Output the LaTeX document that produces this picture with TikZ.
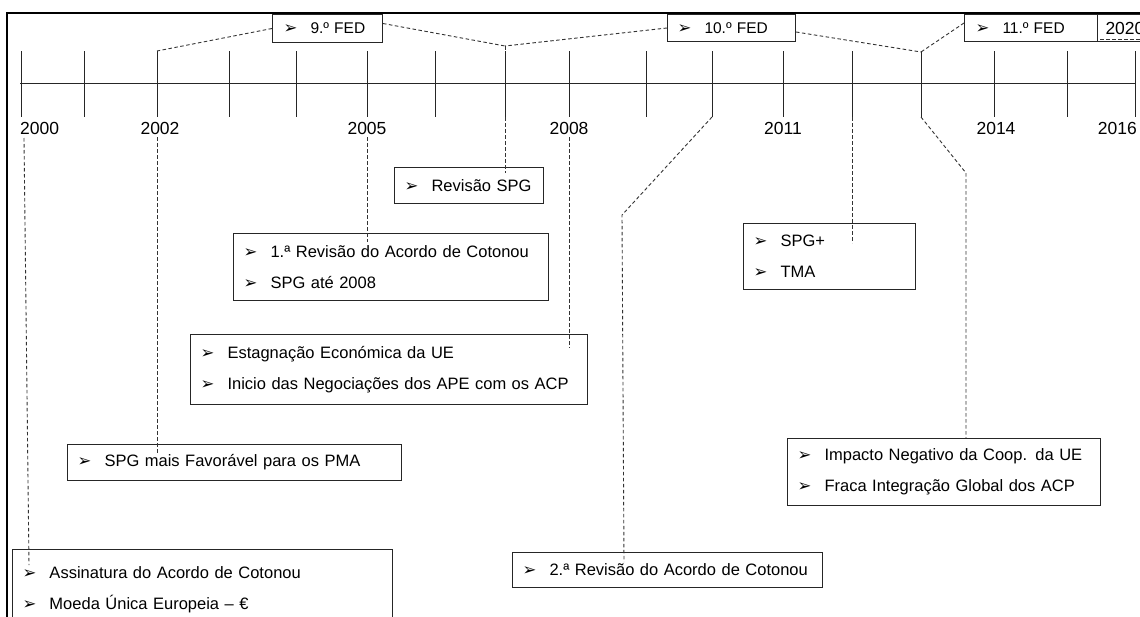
\documentclass[tikz,border=0pt]{standalone}
\usepackage{fontspec}
\setmainfont{Liberation Sans}
\newfontfamily\dejavu{DejaVu Sans}
\usetikzlibrary{calc}
\newcommand{\bul}{\makebox[27pt][l]{\raisebox{0.2pt}{\dejavu\fontsize{16.5}{14}\selectfont ➢}}}
\tikzset{
  linecol/.style={draw=black!85},
  frame/.style={draw=black, line width=2pt},
  axis/.style={linecol, line width=1pt},
  tickline/.style={linecol, line width=1pt},
  conn/.style={draw=black!80, line width=0.9pt, dash pattern=on 3.5pt off 2.5pt},
  box/.style={draw=black!85, line width=1pt, fill=white, anchor=north west,
    inner xsep=10pt, inner ysep=0pt, align=left,
    font=\fontsize{16.5}{31}\selectfont},
  fedbox/.style={box, font=\fontsize{15.5}{18}\selectfont},
  year/.style={inner sep=0pt, font=\fontsize{17.5}{20}\selectfont},
}
\begin{document}
\begin{tikzpicture}[x=1pt,y=-1pt]
\useasboundingbox (0,0) rectangle (1140,616);
\clip (0,0) rectangle (1140,616);
\fill[white] (0,0) rectangle (1140,616);
% outer frame (cut by the picture edge)
\draw[frame] (7,13) rectangle (1160,640);
% axis and ticks
\coordinate (axL) at (20,83);
\coordinate (axR) at (1135,83);
\draw[axis] (axL) -- (axR);
\foreach \x [count=\i] in {21,84,157,229,296,367,435,505,569,646,712,783,852,921,994,1067,1135}{
  \coordinate (tt\i) at (\x,51);
  \coordinate (tb\i) at (\x,117);
  \draw[tickline] (tt\i) -- (tb\i);
}
% years
\node[year, anchor=west] (y2000) at (20,128) {2000};
\node[year] (y2002) at (160,128) {2002};
\node[year] (y2005) at (367,128) {2005};
\node[year] (y2008) at (569,128) {2008};
\node[year] (y2011) at (783,128) {2011};
\node[year] (y2014) at (996,128) {2014};
\node[year, anchor=east] (y2016) at (1137,128) {2016};
% FED boxes
\node[fedbox, minimum width=110pt, minimum height=28pt, inner xsep=11pt, text width=88pt] (fed9) at (272,14) {\bul 9.º FED};
\node[fedbox, minimum width=128pt, minimum height=27pt, text width=108pt] (fed10) at (667,14) {\bul 10.º FED};
\node[fedbox, minimum width=133pt, minimum height=27pt, inner xsep=11pt, text width=111pt] (fed11) at (964,14) {\bul 11.º FED};
\node[box, font=\fontsize{17.5}{20}\selectfont, minimum width=80pt, minimum height=27pt, inner xsep=8pt, text width=64pt] (b2020) at (1097,14) {2020};
% content boxes
\node[box, minimum width=149pt, minimum height=36pt, text width=129pt] (revspg) at (394,167) {\bul Revisão SPG};
\node[box, minimum width=315pt, minimum height=67pt, text width=295pt] (rev1) at (233,233) {\bul 1.ª Revisão do Acordo de Cotonou\\\bul SPG até 2008};
\node[box, minimum width=397pt, minimum height=70pt, text width=377pt] (estag) at (190,334) {\bul Estagnação Económica da UE\\\bul Inicio das Negociações dos APE com os ACP};
\node[box, minimum width=172pt, minimum height=66pt, text width=152pt] (spgplus) at (743,223) {\bul SPG+\\\bul TMA};
\node[box, minimum width=313pt, minimum height=67pt, text width=293pt] (impacto) at (787,438) {\bul Impacto Negativo da Coop. da UE\\\bul Fraca Integração Global dos ACP};
\node[box, minimum width=334pt, minimum height=36pt, text width=314pt] (spgmais) at (67,444) {\bul SPG mais Favorável para os PMA};
\node[box, minimum width=380pt, minimum height=80pt, text width=360pt] (assin) at (12,549) {\bul Assinatura do Acordo de Cotonou\\\bul Moeda Única Europeia – €};
\node[box, minimum width=310pt, minimum height=35pt, text width=290pt] (rev2) at (512,552) {\bul\mbox{2.ª Revisão do Acordo de Cotonou}};
% connector points
\coordinate (j1) at (505,46);
\coordinate (j2) at (921,52);
\coordinate (s2000) at (24,138);
\coordinate (e2000) at (29,565);
\coordinate (s2002) at (157,137);
\coordinate (e2002) at (157,454);
\coordinate (s2005) at (367,137);
\coordinate (e2005) at (367,242);
\coordinate (s2008) at (569,137);
\coordinate (e2008) at (569,348);
\coordinate (e505) at (505,173);
\coordinate (k712) at (622,215);
\coordinate (e712) at (624,562);
\coordinate (e852) at (852,243);
\coordinate (k921) at (966,173);
\coordinate (s2020) at (1100,39);
\coordinate (e2020) at (1140,39);
% connectors
\draw[conn] (fed9.west) -- (tt3);
\draw[conn] ([yshift=5pt]fed9.east) -- (j1);
\draw[conn] (fed10.west) -- (j1);
\draw[conn] (j1) -- (tt8);
\draw[conn] ([yshift=-4pt]fed10.east) -- (j2);
\draw[conn] ([yshift=5pt]fed11.west) -- (j2);
\draw[conn] (s2020) -- (e2020);
\draw[conn] (s2000) -- (e2000);
\draw[conn] (s2002) -- (e2002);
\draw[conn] (s2005) -- (e2005);
\draw[conn] (s2008) -- (e2008);
\draw[conn] (tb8) -- (e505);
\draw[conn] (tb11) -- (k712) -- (e712);
\draw[conn] (tb13) -- (e852);
\draw[conn] (tb14) -- (k921) -- (k921 |- impacto.north);
\end{tikzpicture}
\end{document}
